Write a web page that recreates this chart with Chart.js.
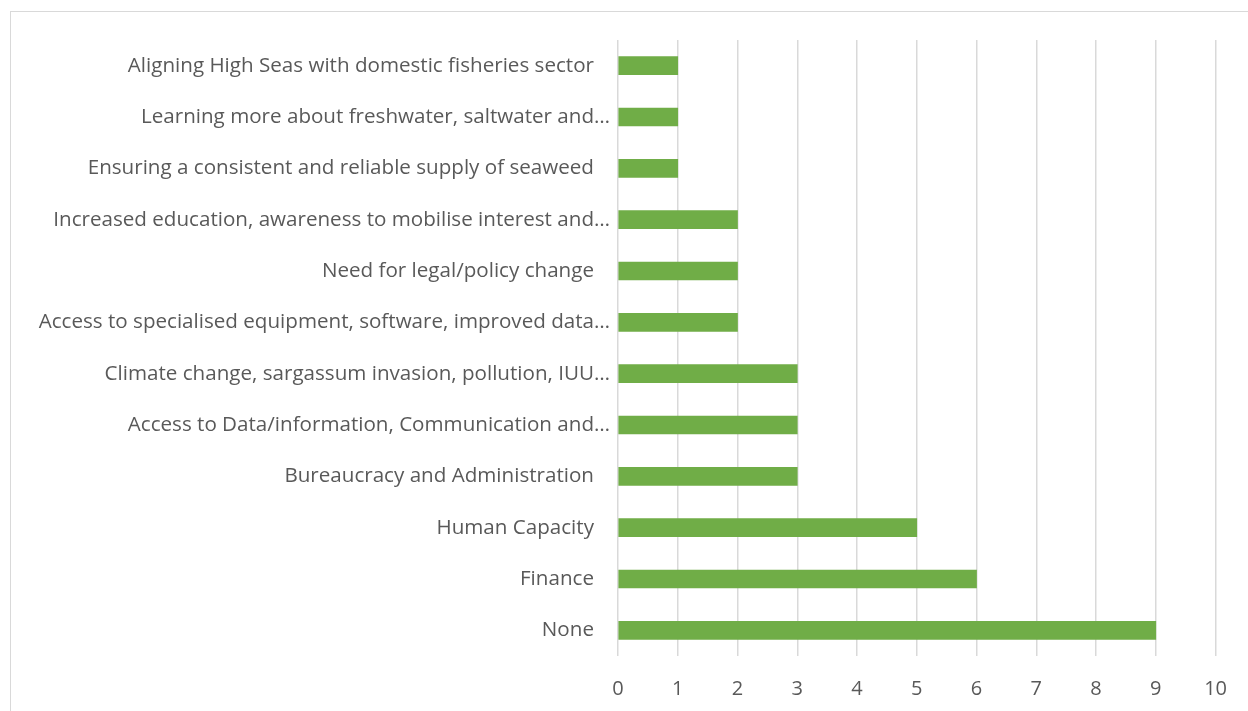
<!DOCTYPE html>
<html>
<head>
<meta charset="utf-8">
<title>Challenges</title>
<script src="https://cdn.jsdelivr.net/npm/chart.js@4.4.0/dist/chart.umd.min.js"></script>
<style>
  html, body { margin: 0; padding: 0; background: #ffffff; overflow: hidden; }
  #wrap { position: relative; width: 1248px; height: 711px; }
  #frame {
    position: absolute; left: 10px; top: 11px; width: 1300px; height: 760px;
    border: 1px solid #d9d9d9; box-sizing: border-box; pointer-events: none;
  }
  canvas { position: absolute; left: 0; top: 0; }
</style>
</head>
<body>
<div id="wrap">
  <div id="frame"></div>
  <canvas id="chart" width="1248" height="711"></canvas>
</div>
<script>
// Categories, listed top to bottom
const categories = [
  "Aligning High Seas with domestic fisheries sector",
  "Learning more about freshwater, saltwater and…",
  "Ensuring a consistent and reliable supply of seaweed",
  "Increased education, awareness to mobilise interest and…",
  "Need for legal/policy change",
  "Access to specialised equipment, software, improved data…",
  "Climate change, sargassum invasion, pollution, IUU…",
  "Access to Data/information, Communication and…",
  "Bureaucracy and Administration",
  "Human Capacity",
  "Finance",
  "None"
];

// Number of responses per category
const responses = [1, 1, 1, 2, 2, 2, 3, 3, 3, 5, 6, 9];

// Value axis tick labels
const xTicks = [0, 1, 2, 3, 4, 5, 6, 7, 8, 9, 10];

const TEXT = "#595959";
const FAMILY = "'Open Sans', 'DejaVu Sans', sans-serif";

new Chart(document.getElementById("chart"), {
  type: "bar",
  data: {
    labels: categories,
    datasets: [{
      data: responses,
      backgroundColor: "#70ad47",
      borderWidth: 0,
      barThickness: 18
    }]
  },
  options: {
    indexAxis: "y",
    responsive: false,
    animation: false,
    devicePixelRatio: 1,
    layout: { padding: { top: 40, right: 31, bottom: 0, left: 0 } },
    plugins: {
      legend: { display: false },
      tooltip: { enabled: false }
    },
    scales: {
      x: {
        min: xTicks[0],
        max: xTicks[xTicks.length - 1],
        afterBuildTicks: (axis) => { axis.ticks = xTicks.map(v => ({ value: v })); },
        afterFit: (axis) => { axis.height = 55; },
        grid: { color: "#d9d9d9", lineWidth: 1.5, drawTicks: false },
        border: { display: false },
        ticks: { color: TEXT, font: { family: FAMILY, size: 20 }, padding: 21, maxRotation: 0 }
      },
      y: {
        afterFit: (axis) => { axis.width = 618; },
        grid: { display: false, drawTicks: false },
        border: { display: false },
        ticks: {
          color: TEXT,
          font: { family: FAMILY, size: 20.6 },
          padding: 8,
          autoSkip: false,
          // full labels sit a little further from the axis than shortened ones
          callback: function (value) {
            const s = this.getLabelForValue(value);
            return s.endsWith("…") ? s : s + "\u00a0\u00a0\u00a0";
          }
        }
      }
    }
  }
});
</script>
</body>
</html>
